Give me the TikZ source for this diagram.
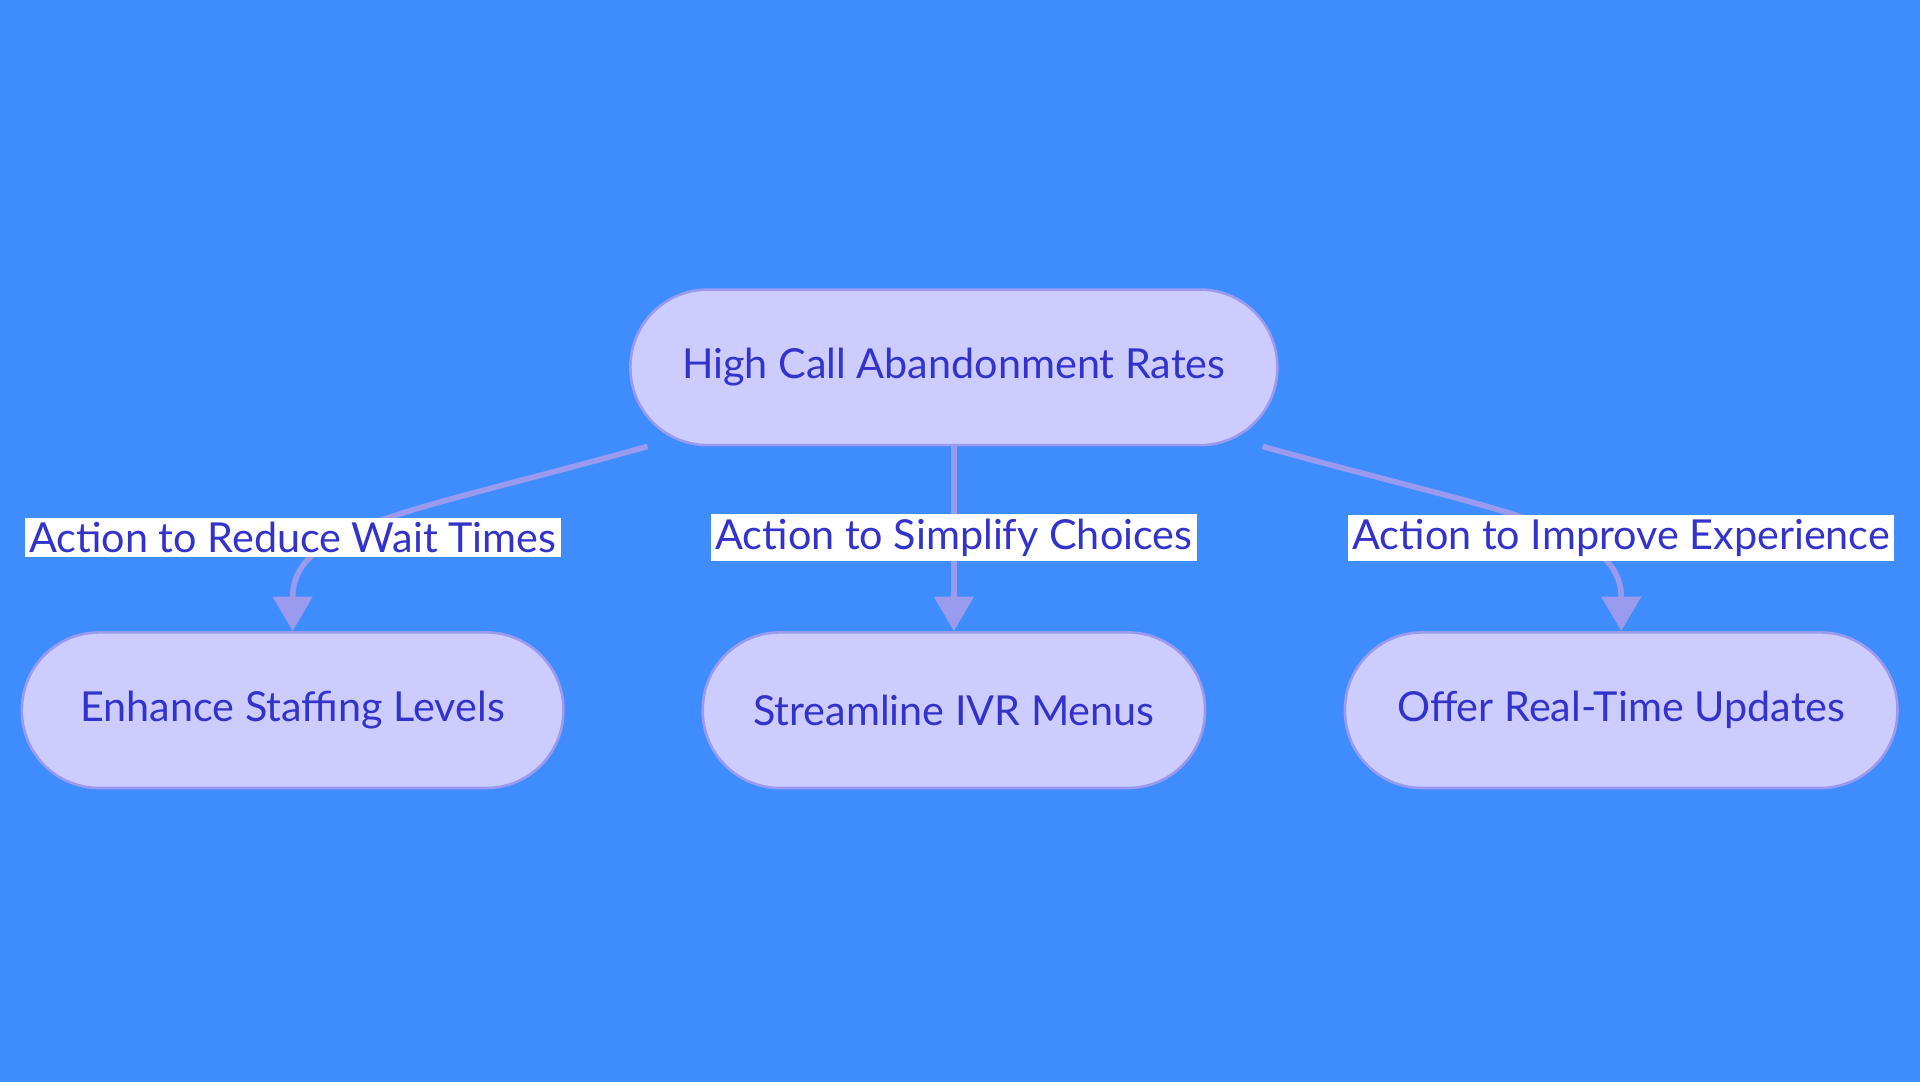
\documentclass[tikz,border=0pt]{standalone}
\usepackage{fontspec}
\setmainfont{Lato}
\usepackage{xcolor}
\usetikzlibrary{arrows.meta,positioning,backgrounds}
\definecolor{bgblue}{HTML}{3F8CFF}
\definecolor{boxfill}{HTML}{CCCCFF}
\definecolor{boxline}{HTML}{9A9AEE}
\definecolor{txtblue}{HTML}{3333CC}
\tikzset{
  box/.style={draw=boxline, fill=boxfill, line width=0.6pt, rounded corners=0.63cm,
    minimum height=1.27cm, text=txtblue, font=\fontsize{9.6}{11}\selectfont},
  lbl/.style={fill=white, text=txtblue, inner sep=1pt, font=\fontsize{9.6}{11}\selectfont},
  link/.style={draw=boxline, line width=1.3pt, -{Triangle[length=8pt,width=9pt]}}
}
\begin{document}
\begin{tikzpicture}[x=0.01cm,y=-0.01cm]
  \fill[bgblue] (0,0) rectangle (1568,884);
  \node[box, minimum width=5.28cm] (root) at (779,300) {High Call Abandonment Rates};
  \node[box, minimum width=4.42cm] (staff) at (239,580) {Enhance Staffing Levels};
  \node[box, minimum width=4.10cm] (ivr) at (779,580) {Streamline IVR Menus};
  \node[box, minimum width=4.51cm] (updates) at (1324,580) {Offer Real-Time Updates};
  % connectors
  \draw[link] ([xshift=0.15cm]root.south west) .. controls (330,420) and (239,430) .. (staff.north);
  \draw[link] (root.south) -- (ivr.north);
  \draw[link] ([xshift=-0.13cm]root.south east) .. controls (1230,420) and (1324,430) .. (updates.north);
  \node[lbl] (l1) at (239,439) {Action to Reduce Wait Times};
  \node[lbl] (l2) at (779,439) {Action to Simplify Choices};
  \node[lbl] (l3) at (1324,439) {Action to Improve Experience};
\end{tikzpicture}
\end{document}
